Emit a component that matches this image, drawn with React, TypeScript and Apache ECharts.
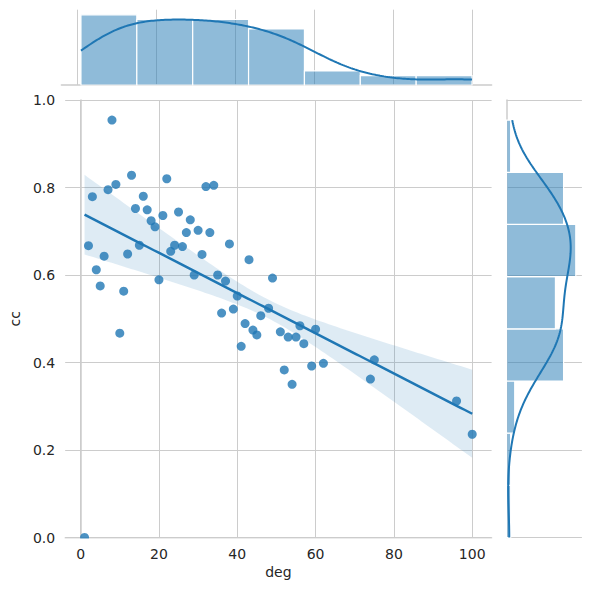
import React, { useEffect, useRef } from "react";
import * as echarts from "echarts";

const degValues = [
  1, 2, 3, 4, 5, 6, 7, 8, 9, 10, 11, 12, 13, 14, 15, 16, 17, 18, 19, 20, 21, 22, 23, 24, 25, 26,
  27, 28, 29, 30, 31, 32, 33, 34, 35, 36, 37, 38, 39, 40, 41, 42, 43, 44, 45, 46, 48, 49, 51, 52,
  53, 54, 55, 56, 57, 59, 60, 62, 74, 75, 96, 100,
];
const ccValues = [
  0.0, 0.667, 0.779, 0.612, 0.575, 0.643, 0.795, 0.954, 0.807, 0.467, 0.563, 0.648, 0.828, 0.752,
  0.668, 0.78, 0.749, 0.724, 0.71, 0.589, 0.736, 0.82, 0.654, 0.668, 0.744, 0.665, 0.697, 0.726,
  0.6, 0.702, 0.647, 0.802, 0.697, 0.805, 0.6, 0.513, 0.586, 0.671, 0.522, 0.552, 0.437, 0.489,
  0.635, 0.474, 0.463, 0.507, 0.524, 0.593, 0.47, 0.383, 0.458, 0.35, 0.458, 0.484, 0.443, 0.392,
  0.476, 0.398, 0.362, 0.406, 0.312, 0.236,
];
const xTickValues = [0, 20, 40, 60, 80, 100];
const xBinCount = 7;
const yBinCount = 8;

const BLUE = "#1f77b4";
const GRID_COLOR = "#cccccc";
const TEXT_COLOR = "#262626";

// layout (px)
const MAIN_L = 61.4;
const MAIN_T = 100;
const MAIN_W = 430.2;
const MAIN_H = 437.5;
const MARG = 75.3;
const GAP = 15;

function histogram(vals: number[], bins: number) {
  const lo = Math.min(...vals);
  const hi = Math.max(...vals);
  const w = (hi - lo) / bins;
  const counts = new Array(bins).fill(0);
  vals.forEach((v) => {
    let i = Math.floor((v - lo) / w);
    if (i >= bins) i = bins - 1;
    counts[i]++;
  });
  return { width: w, data: counts.map((c, i) => [lo + i * w, lo + (i + 1) * w, c]) };
}

function kde(vals: number[], binWidth: number, steps = 200) {
  const n = vals.length;
  const mean = vals.reduce((a, b) => a + b, 0) / n;
  const sd = Math.sqrt(vals.reduce((a, b) => a + (b - mean) ** 2, 0) / (n - 1));
  const h = sd * Math.pow(n, -0.2);
  const lo = Math.min(...vals);
  const hi = Math.max(...vals);
  const out: number[][] = [];
  for (let k = 0; k <= steps; k++) {
    const x = lo + ((hi - lo) * k) / steps;
    let s = 0;
    vals.forEach((v) => {
      const z = (x - v) / h;
      s += Math.exp(-0.5 * z * z);
    });
    const dens = s / (n * h * Math.sqrt(2 * Math.PI));
    out.push([x, dens * n * binWidth]);
  }
  return out;
}

// OLS fit with a heteroscedasticity-robust (HC1) 95% band for the mean prediction
function regression(xs: number[], ys: number[], steps = 100) {
  const n = xs.length;
  const mx = xs.reduce((a, b) => a + b, 0) / n;
  const my = ys.reduce((a, b) => a + b, 0) / n;
  let sxx = 0;
  let sxy = 0;
  xs.forEach((x, i) => {
    sxx += (x - mx) ** 2;
    sxy += (x - mx) * (ys[i] - my);
  });
  const b = sxy / sxx;
  const a = my - b * mx;
  let m00 = 0;
  let m01 = 0;
  let m11 = 0;
  xs.forEach((x, i) => {
    const e2 = (ys[i] - (a + b * x)) ** 2;
    const d = x - mx;
    m00 += e2;
    m01 += e2 * d;
    m11 += e2 * d * d;
  });
  const scale = n / (n - 2);
  const v00 = (scale * m00) / (n * n);
  const v01 = (scale * m01) / (n * sxx);
  const v11 = (scale * m11) / (sxx * sxx);
  const t = 2.0;
  const lo = Math.min(...xs);
  const hi = Math.max(...xs);
  const line: number[][] = [];
  const band: number[][] = [];
  for (let k = 0; k <= steps; k++) {
    const x = lo + ((hi - lo) * k) / steps;
    const yh = a + b * x;
    const d = x - mx;
    const se = Math.sqrt(v00 + 2 * d * v01 + d * d * v11);
    line.push([x, yh]);
    band.push([x, yh - t * se, yh + t * se]);
  }
  return { line, band };
}

export default function App() {
  const ref = useRef<HTMLDivElement>(null);

  useEffect(() => {
    if (!ref.current) return;
    const chart = echarts.init(ref.current, undefined, { renderer: "svg" });

    const xHist = histogram(degValues, xBinCount);
    const yHist = histogram(ccValues, yBinCount);
    const xKde = kde(degValues, xHist.width);
    const yKde = kde(ccValues, yHist.width).map(([v, c]) => [c, v]);
    const reg = regression(degValues, ccValues);
    const points = degValues.map((d, i) => [d, ccValues[i]]);

    const xMin = -3.95;
    const xMax = 104.95;

    const option: any = {
      animation: false,
      backgroundColor: "#ffffff",
      textStyle: { fontFamily: "DejaVu Sans", color: TEXT_COLOR },
      grid: [
        { left: MAIN_L, top: MAIN_T, width: MAIN_W, height: MAIN_H },
        { left: MAIN_L, top: MAIN_T - GAP - MARG, width: MAIN_W, height: MARG },
        { left: MAIN_L + MAIN_W + GAP, top: MAIN_T, width: MARG, height: MAIN_H },
      ],
      xAxis: [
        {
          type: "value",
          gridIndex: 0,
          min: xMin,
          max: xMax,
          name: "deg",
          nameLocation: "middle",
          nameGap: 27,
          nameTextStyle: { fontSize: 14, color: TEXT_COLOR, fontFamily: "DejaVu Sans" },
          axisLine: { show: true, lineStyle: { color: GRID_COLOR, width: 1.5 } },
          axisTick: { show: false, customValues: xTickValues },
          axisLabel: {
            customValues: xTickValues,
            fontSize: 14,
            color: TEXT_COLOR,
            margin: 9,
            fontFamily: "DejaVu Sans",
          },
          splitLine: { show: true, lineStyle: { color: GRID_COLOR, width: 1 } },
        },
        {
          type: "value",
          gridIndex: 1,
          min: xMin,
          max: xMax,
          axisLine: { show: true, lineStyle: { color: GRID_COLOR, width: 1.5 } },
          axisTick: { show: false, customValues: xTickValues },
          axisLabel: { show: false, customValues: xTickValues },
          splitLine: { show: true, lineStyle: { color: GRID_COLOR, width: 1 } },
        },
        {
          type: "value",
          gridIndex: 2,
          min: 0,
          max: 18.5,
          axisLine: { show: false },
          axisTick: { show: false },
          axisLabel: { show: false },
          splitLine: { show: false },
        },
      ],
      yAxis: [
        {
          type: "value",
          gridIndex: 0,
          min: 0,
          max: 1,
          interval: 0.2,
          name: "cc",
          nameLocation: "middle",
          nameGap: 35,
          nameRotate: 90,
          nameTextStyle: { fontSize: 14, color: TEXT_COLOR, fontFamily: "DejaVu Sans" },
          axisLine: { show: true, lineStyle: { color: GRID_COLOR, width: 1.5 } },
          axisTick: { show: false },
          axisLabel: {
            fontSize: 14,
            color: TEXT_COLOR,
            margin: 10,
            fontFamily: "DejaVu Sans",
            formatter: (v: number) => v.toFixed(1),
          },
          splitLine: { show: true, lineStyle: { color: GRID_COLOR, width: 1 } },
        },
        {
          type: "value",
          gridIndex: 1,
          min: 0,
          max: 16.1,
          axisLine: { show: false },
          axisTick: { show: false },
          axisLabel: { show: false },
          splitLine: { show: false },
        },
        {
          type: "value",
          gridIndex: 2,
          min: 0,
          max: 1,
          interval: 0.2,
          axisLine: { show: true, lineStyle: { color: GRID_COLOR, width: 1.5 } },
          axisTick: { show: false },
          axisLabel: { show: false },
          splitLine: { show: true, lineStyle: { color: GRID_COLOR, width: 1 } },
        },
      ],
      series: [
        {
          name: "ci",
          type: "custom",
          xAxisIndex: 0,
          yAxisIndex: 0,
          silent: true,
          z: 1,
          data: reg.band,
          encode: { x: 0, y: [1, 2] },
          renderItem: (params: any, api: any) => {
            if (params.dataIndex !== 0) return null;
            const upper = reg.band.map((p) => api.coord([p[0], p[2]]));
            const lower = reg.band
              .slice()
              .reverse()
              .map((p) => api.coord([p[0], p[1]]));
            return {
              type: "polygon",
              shape: { points: upper.concat(lower) },
              style: { fill: "rgba(31,119,180,0.15)", stroke: "none" },
            };
          },
        },
        {
          name: "points",
          type: "scatter",
          xAxisIndex: 0,
          yAxisIndex: 0,
          data: points,
          symbolSize: 9,
          z: 3,
          itemStyle: { color: BLUE, opacity: 0.8 },
        },
        {
          name: "fit",
          type: "line",
          xAxisIndex: 0,
          yAxisIndex: 0,
          data: reg.line,
          showSymbol: false,
          symbol: "none",
          z: 4,
          lineStyle: { color: BLUE, width: 2.5 },
        },
        {
          name: "degHist",
          type: "custom",
          xAxisIndex: 1,
          yAxisIndex: 1,
          data: xHist.data,
          encode: { x: [0, 1], y: 2 },
          renderItem: (params: any, api: any) => {
            const a = api.coord([api.value(0), 0]);
            const b = api.coord([api.value(1), api.value(2)]);
            return {
              type: "rect",
              shape: { x: a[0], y: b[1], width: b[0] - a[0], height: a[1] - b[1] },
              style: { fill: "rgba(31,119,180,0.5)", stroke: "#ffffff", lineWidth: 1.2 },
            };
          },
        },
        {
          name: "degKde",
          type: "line",
          xAxisIndex: 1,
          yAxisIndex: 1,
          data: xKde,
          showSymbol: false,
          symbol: "none",
          z: 4,
          lineStyle: { color: BLUE, width: 2 },
        },
        {
          name: "ccHist",
          type: "custom",
          xAxisIndex: 2,
          yAxisIndex: 2,
          data: yHist.data,
          encode: { y: [0, 1], x: 2 },
          renderItem: (params: any, api: any) => {
            const a = api.coord([0, api.value(0)]);
            const b = api.coord([api.value(2), api.value(1)]);
            return {
              type: "rect",
              shape: { x: a[0], y: b[1], width: b[0] - a[0], height: a[1] - b[1] },
              style: { fill: "rgba(31,119,180,0.5)", stroke: "#ffffff", lineWidth: 1.2 },
            };
          },
        },
        {
          name: "ccKde",
          type: "line",
          xAxisIndex: 2,
          yAxisIndex: 2,
          data: yKde,
          showSymbol: false,
          symbol: "none",
          z: 4,
          lineStyle: { color: BLUE, width: 2 },
        },
      ],
      graphic: [
        {
          type: "rect",
          z: 100,
          silent: true,
          shape: { x: MAIN_L - 2, y: MAIN_T + MAIN_H + 0.9, width: MAIN_W + 4, height: 6 },
          style: { fill: "#ffffff" },
        },
      ],
    };

    chart.setOption(option);
    return () => chart.dispose();
  }, []);

  return (
    <div
      ref={ref}
      style={{ position: "fixed", left: 0, top: 0, width: 589, height: 590, background: "#fff" }}
    />
  );
}
